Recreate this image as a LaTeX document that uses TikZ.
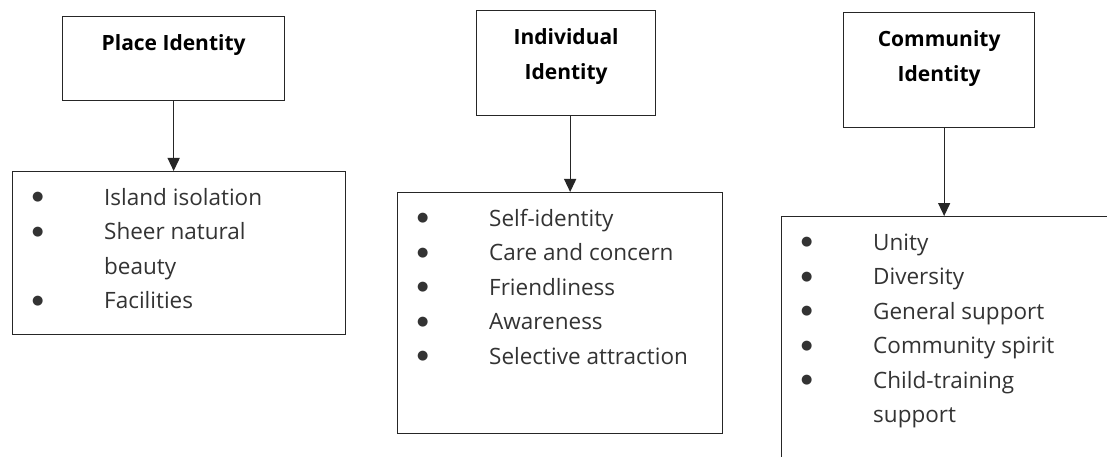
\documentclass[tikz,border=0pt]{standalone}
\usepackage{fontspec}
\setmainfont{Open Sans}
\newfontfamily\symfont{DejaVu Sans}
\usetikzlibrary{positioning, arrows.meta}

\begin{document}
\begin{tikzpicture}[x=1pt, y=-1pt,
  box/.style={draw=black!85, line width=1.3pt, inner sep=0pt, anchor=north west},
  headtext/.style={font=\fontsize{21}{35}\selectfont\bfseries, align=center, inner sep=0pt, anchor=north},
  listtext/.style={font=\fontsize{22.5}{34.5}\selectfont, text=black!80, inner sep=0pt},
  arr/.style={line width=1.3pt, draw=black!85, -{Triangle[width=12pt, length=13pt]}}]

\clip (0,0) rectangle (1107,457);
\fill[white] (0,0) rectangle (1107,457);

% ---- Place identity ----
\node[box, minimum width=222pt, minimum height=84pt] (place) at (62,16) {};
\node[headtext, below=18pt of place.north] (placehead) {Place Identity};
\node[box, minimum width=333pt, minimum height=163pt] (placelist) at (12,171) {};
\node[listtext, below right=10pt and 20pt of placelist.north west] (placeitems) {%
  \begin{tabular}{@{}p{72pt}@{}l@{}}
    \raisebox{4.5pt}{\symfont\fontsize{13}{13}\selectfont ●} & Island isolation\\
    \raisebox{4.5pt}{\symfont\fontsize{13}{13}\selectfont ●} & Sheer natural\\
     & beauty\\
    \raisebox{4.5pt}{\symfont\fontsize{13}{13}\selectfont ●} & Facilities
  \end{tabular}};
\draw[arr] (place.south) -- (place.south |- placelist.north);

% ---- Individual identity ----
\node[box, minimum width=179pt, minimum height=105pt] (indiv) at (476,10) {};
\node[headtext, below=18pt of indiv.north] (indivhead) {Individual\\Identity};
\node[box, minimum width=325pt, minimum height=241pt] (indivlist) at (397,192) {};
\node[listtext, below right=10pt and 20pt of indivlist.north west] (indivitems) {%
  \begin{tabular}{@{}p{72pt}@{}l@{}}
    \raisebox{4.5pt}{\symfont\fontsize{13}{13}\selectfont ●} & Self-identity\\
    \raisebox{4.5pt}{\symfont\fontsize{13}{13}\selectfont ●} & Care and concern\\
    \raisebox{4.5pt}{\symfont\fontsize{13}{13}\selectfont ●} & Friendliness\\
    \raisebox{4.5pt}{\symfont\fontsize{13}{13}\selectfont ●} & Awareness\\
    \raisebox{4.5pt}{\symfont\fontsize{13}{13}\selectfont ●} & Selective attraction
  \end{tabular}};
\draw[arr] ([xshift=4pt]indiv.south) -- ([xshift=4pt]indiv.south |- indivlist.north);

% ---- Community identity ----
\node[box, minimum width=191pt, minimum height=115pt] (comm) at (843,12) {};
\node[headtext, below=18pt of comm.north] (commhead) {Community\\Identity};
\node[box, minimum width=340pt, minimum height=260pt] (commlist) at (781,216) {};
\node[listtext, below right=10pt and 20pt of commlist.north west] (commitems) {%
  \begin{tabular}{@{}p{72pt}@{}l@{}}
    \raisebox{4.5pt}{\symfont\fontsize{13}{13}\selectfont ●} & Unity\\
    \raisebox{4.5pt}{\symfont\fontsize{13}{13}\selectfont ●} & Diversity\\
    \raisebox{4.5pt}{\symfont\fontsize{13}{13}\selectfont ●} & General support\\
    \raisebox{4.5pt}{\symfont\fontsize{13}{13}\selectfont ●} & Community spirit\\
    \raisebox{4.5pt}{\symfont\fontsize{13}{13}\selectfont ●} & Child-training\\
     & support
  \end{tabular}};
\draw[arr] ([xshift=5pt]comm.south) -- ([xshift=5pt]comm.south |- commlist.north);
\end{tikzpicture}
\end{document}
